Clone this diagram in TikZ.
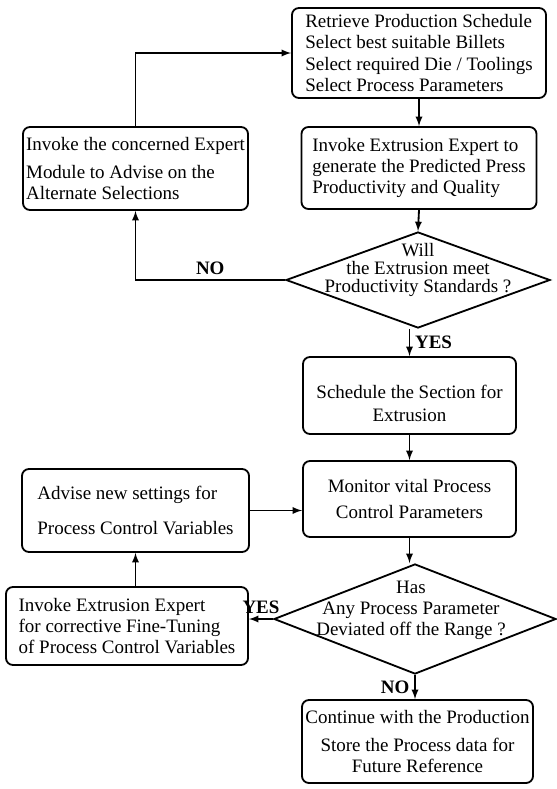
\documentclass[tikz,border=0pt]{standalone}
\usepackage{fontspec}
\setmainfont{Liberation Serif}
\usetikzlibrary{shapes.geometric}
\begin{document}
\begin{tikzpicture}[x=0.025cm,y=-0.025cm,line width=1.3pt,
  font=\fontsize{13.5}{15}\selectfont,
  box/.style={draw,rounded corners=5pt,inner sep=2pt,align=center},
  decide/.style={draw,diamond,inner sep=0pt},
  answer/.style={font=\fontsize{13.5}{15}\selectfont\bfseries}]
\useasboundingbox (0,0) rectangle (557,789);

\node[box,align=left,minimum width=6.35cm,minimum height=2.25cm] (retrieve) at (419,53)
  {Retrieve Production Schedule\\Select best suitable Billets\\Select required Die / Toolings\\Select Process Parameters};
\node[box,align=left,minimum width=5.875cm,minimum height=2.05cm] (predict) at (419,168)
  {Invoke Extrusion Expert to\\generate the Predicted Press\\Productivity and Quality};
\node[box,align=left,minimum width=5.625cm,minimum height=2.075cm] (expert) at (135.5,168.5)
  {Invoke the concerned Expert\\[5pt]Module to Advise on the\\Alternate Selections};
\node[decide,minimum width=6.6cm,minimum height=2.4cm] (d1) at (418,280) {};
\node[align=center] (q1) at (418,270) {Will\\[-2pt]the Extrusion meet\\[-2pt]Productivity Standards ?};
\node[box,minimum width=5.325cm,minimum height=1.925cm] (sched) at (409.5,395.5)
  {\rule{0pt}{21pt}Schedule the Section for\\[1.5pt]Extrusion};
\node[box,minimum width=5.325cm,minimum height=1.9cm] (monitor) at (409.5,499)
  {Monitor vital Process\\[3pt]Control Parameters};
\node[box,align=left,minimum width=5.675cm,minimum height=2.075cm] (advise) at (135.5,510.5)
  {Advise new settings for\\[10pt]Process Control Variables};
\node[decide,minimum width=7.05cm,minimum height=2.75cm] (d2) at (415,619) {};
\node[align=center] (q2) at (411,610) {Has\\Any Process Parameter\\Deviated off the Range ?};
\node[box,align=left,minimum width=6.05cm,minimum height=1.95cm] (tune) at (127,626)
  {Invoke Extrusion Expert\\for corrective Fine-Tuning\\of Process Control Variables};
\node[box,minimum width=5.775cm,minimum height=2.075cm] (cont) at (417.5,741.5)
  {Continue with the Production\\[5pt]Store the Process data for\\Future Reference};

\draw[-latex] (expert.north) |- (retrieve.west);
\draw[-latex] (retrieve.south) -- (predict.north);
\draw[-latex] (predict.south) -- (d1.north);
\draw[-latex] (d1.west) -| (expert.south) node[answer,pos=0.25,above] (no1) {NO};
\draw[-latex] (sched.north |- d1.south) -- (sched.north) node[answer,midway,right] (yes1) {YES};
\draw[-latex] (sched.south) -- (monitor.north);
\draw[-latex] (monitor.south) -- (monitor.south |- d2.north);
\draw[-latex] (d2.west) -- (d2.west -| tune.east) node[answer,midway,above] (yes2) {YES};
\draw[-latex] (d2.south) -- (d2.south |- cont.north) node[answer,midway,left] (no2) {NO};
\draw[-latex] (advise.south |- tune.north) -- (advise.south);
\draw[-latex] (advise.east) -- (advise.east -| monitor.west);
\end{tikzpicture}
\end{document}
